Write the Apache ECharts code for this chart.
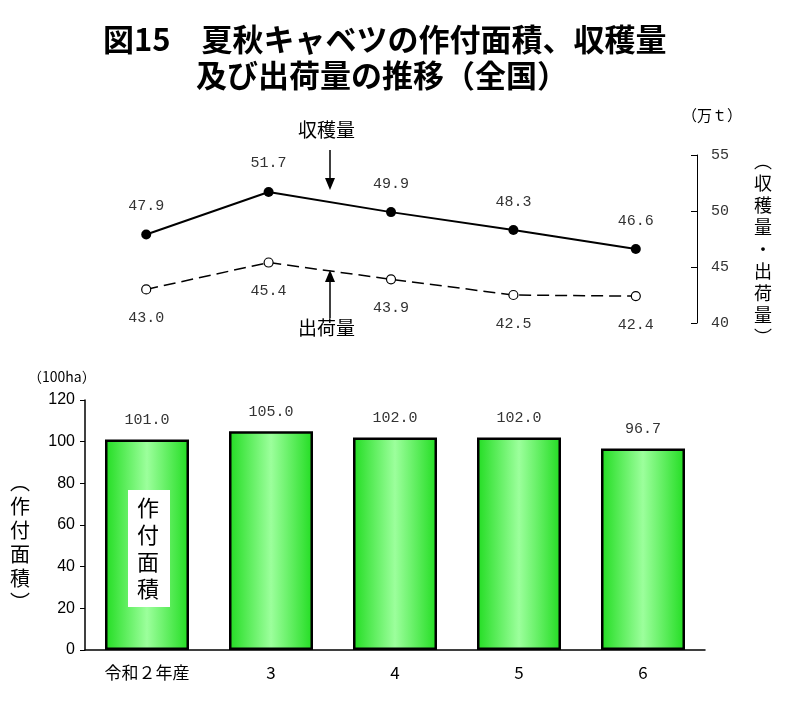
<!DOCTYPE html>
<html><head><meta charset="utf-8">
<script src="https://cdn.jsdelivr.net/npm/echarts@6/dist/echarts.min.js"></script>
<style>html,body{margin:0;padding:0;background:#fff}#c{width:793px;height:702px}</style>
</head><body><div id="c"></div>
<script>
var categories = ['令和２年産', '3', '4', '5', '6'];
var harvest = [47.9, 51.7, 49.9, 48.3, 46.6];
var shipment = [43.0, 45.4, 43.9, 42.5, 42.4];
var area = [101.0, 105.0, 102.0, 102.0, 96.7];

var chart = echarts.init(document.getElementById('c'));
var jp = '"Noto Sans CJK JP", sans-serif';
var mono = '"Liberation Mono", monospace';

var option = {
    animation: false,
    title: {
        text: '図15　夏秋キャベツの作付面積、収穫量\n　　　及び出荷量の推移（全国）',
        left: 98, top: 16,
        textStyle: { fontFamily: jp, fontSize: 31, fontWeight: 'bold', color: '#000', lineHeight: 36 }
    },
    grid: [
        { left: 85, right: 96, top: 155, bottom: 379 },
        { left: 85, right: 88, top: 400, bottom: 52 }
    ],
    xAxis: [
        { gridIndex: 0, type: 'category', data: categories, show: false },
        { gridIndex: 1, type: 'category', data: categories,
          axisLine: { lineStyle: { color: '#000', width: 1.5 } },
          axisTick: { show: false },
          axisLabel: { color: '#000', fontSize: 17, fontFamily: jp, margin: 14 } }
    ],
    yAxis: [
        { gridIndex: 0, type: 'value', position: 'right', min: 40, max: 55, interval: 5,
          splitLine: { show: false },
          axisLine: { show: true, lineStyle: { color: '#000' } },
          axisTick: { show: true, inside: true, length: 6, lineStyle: { color: '#000' } },
          axisLabel: { color: '#333', fontSize: 15, fontFamily: mono, margin: 14 } },
        { gridIndex: 1, type: 'value', min: 0, max: 120, interval: 20,
          splitLine: { show: false },
          axisLine: { show: true, lineStyle: { color: '#000', width: 1.5 } },
          axisTick: { show: true, length: 5, lineStyle: { color: '#000' } },
          axisLabel: { color: '#000', fontSize: 16, fontFamily: 'Liberation Sans', margin: 10 } }
    ],
    series: [
        { type: 'bar', xAxisIndex: 1, yAxisIndex: 1, data: area, barWidth: 84, z: 2,
          itemStyle: {
              borderColor: '#000', borderWidth: 2.5,
              color: new echarts.graphic.LinearGradient(0, 0, 1, 0, [
                  { offset: 0, color: '#22dd22' },
                  { offset: 0.5, color: '#9cff9c' },
                  { offset: 1, color: '#22dd22' }
              ])
          },
          label: { show: true, position: 'top', distance: 12, color: '#333', fontSize: 15, fontFamily: mono,
                   formatter: function (p) { return p.value.toFixed(1); } } },
        { type: 'line', xAxisIndex: 0, yAxisIndex: 0, data: harvest, symbol: 'circle', symbolSize: 10,
          lineStyle: { color: '#000', width: 2 }, itemStyle: { color: '#000' },
          label: { show: true, position: 'top', distance: 16, color: '#333', fontSize: 15, fontFamily: mono,
                   formatter: function (p) { return p.value.toFixed(1); } } },
        { type: 'line', xAxisIndex: 0, yAxisIndex: 0, data: shipment, symbol: 'circle', symbolSize: 9,
          lineStyle: { color: '#000', width: 1.5, type: [12, 6] },
          itemStyle: { color: '#fff', borderColor: '#000', borderWidth: 1.2 },
          label: { show: true, position: 'bottom', distance: 16, color: '#333', fontSize: 15, fontFamily: mono,
                   formatter: function (p) { return p.value.toFixed(1); } } }
    ],
    graphic: [
        { type: 'text', left: 682, top: 108, style: { text: '（万ｔ）', font: '15px ' + jp, fill: '#000' } },
        { type: 'text', left: 754, top: 150, style: { text: '︵\n収\n穫\n量\n・\n出\n荷\n量\n︶', font: '18px ' + jp, fill: '#000', lineHeight: 22 } },
        { type: 'text', left: 28, top: 370, style: { text: '（100ha）', font: '14px ' + jp, fill: '#000' } },
        { type: 'text', left: 10, top: 470, style: { text: '︵\n作\n付\n面\n積\n︶', font: '20px ' + jp, fill: '#000', lineHeight: 24 } },
        { type: 'text', left: 298, top: 120, style: { text: '収穫量', font: '19px ' + jp, fill: '#000' } },
        { type: 'line', shape: { x1: 330, y1: 150, x2: 330, y2: 186 }, style: { stroke: '#000', lineWidth: 1.5 } },
        { type: 'polygon', shape: { points: [[325, 178], [335, 178], [330, 190]] }, style: { fill: '#000' } },
        { type: 'text', left: 298, top: 318, style: { text: '出荷量', font: '19px ' + jp, fill: '#000' } },
        { type: 'line', shape: { x1: 330, y1: 318, x2: 330, y2: 275 }, style: { stroke: '#000', lineWidth: 1.5 } },
        { type: 'polygon', shape: { points: [[325, 282], [335, 282], [330, 270]] }, style: { fill: '#000' } },
        { type: 'group', z: 100, children: [
            { type: 'rect', z: 100, shape: { x: 128, y: 490, width: 42, height: 117 }, style: { fill: '#fff' } },
            { type: 'text', z: 101, x: 137, y: 494, style: { text: '作\n付\n面\n積', font: '22px ' + jp, fill: '#000', lineHeight: 27 } }
        ] }
    ]
};
chart.setOption(option);
</script>
</body></html>
